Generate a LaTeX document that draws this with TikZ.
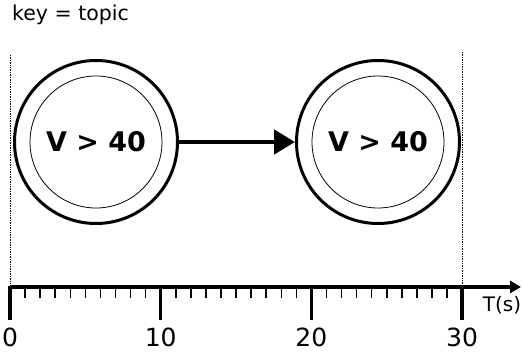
\documentclass[tikz,border=0pt]{standalone}
\usepackage{fontspec}
\setmainfont{DejaVu Sans}
\usepackage{tikz}
\usetikzlibrary{positioning,arrows.meta}

\begin{document}
\begin{tikzpicture}[
    x=1pt, y=-1pt,
    outerstate/.style={draw, circle, line width=3pt, minimum size=163pt, inner sep=0pt},
    innerstate/.style={draw, circle, line width=0.8pt, minimum size=132pt, inner sep=0pt, font=\fontsize{27}{30}\selectfont\bfseries},
    arrow/.style={-{Triangle[length=21pt, width=24pt]}, line width=4.8pt},
    axis/.style={-{Triangle[length=11pt, width=12pt]}, line width=3.5pt},
    ticklabel/.style={font=\fontsize{25}{28}\selectfont, inner sep=0pt},
    guide/.style={densely dotted, line width=0.7pt}
]
\useasboundingbox (0,0) rectangle (523,353);

% ===== Key label =====
\node[font=\fontsize{20.5}{22}\selectfont, anchor=west, inner sep=0pt] (key) at (12,15) {key = topic};

% ===== States =====
\node[outerstate] (s1) at (96,142) {};
\node[innerstate] (s1in) at (s1.center) {V > 40};
\node[outerstate] (s2) at (378,142) {};
\node[innerstate] (s2in) at (s2.center) {V > 40};

\draw[arrow] (s1) -- (s2);

% ===== Time axis =====
\coordinate (origin) at (10,287);
\coordinate (tend) at (521,287);
\draw[axis] (origin) -- (tend);
\node[font=\fontsize{20}{22}\selectfont, inner sep=0pt] (tlabel) at (502,305) {T(s)};

% minor ticks
\foreach \i in {1,...,29}
    \draw[line width=1.5pt] (10+15.07*\i,287) -- (10+15.07*\i,298);

% major ticks and labels
\foreach \i/\t in {0/0,1/10,2/20,3/30} {
    \draw[line width=3.5pt] (10+150.7*\i,285.5) -- (10+150.7*\i,320);
    \node[ticklabel] (lab\t) at (10+150.7*\i,337) {\t};
}

% ===== Window borders =====
\coordinate (wleft) at (10,55);
\coordinate (wright) at (462,52);
\draw[guide] (wleft) -- (origin);
\draw[guide] (wright) -- (462,287);

\end{tikzpicture}
\end{document}
